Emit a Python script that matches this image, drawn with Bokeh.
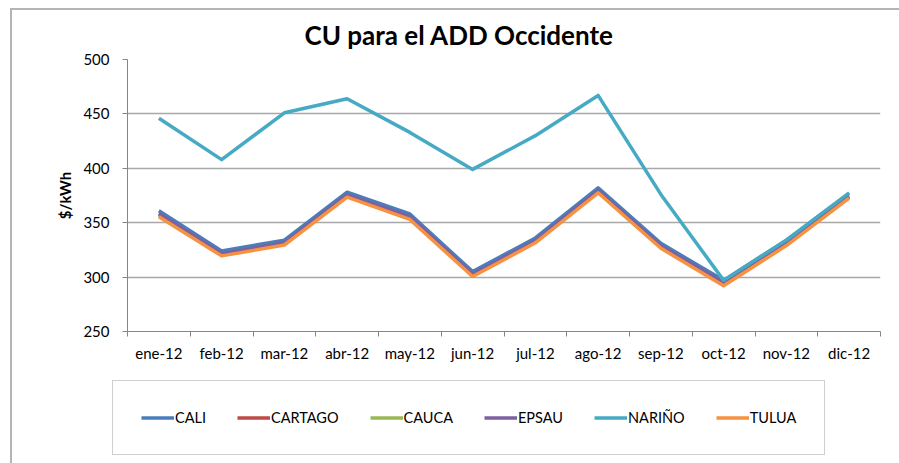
from bokeh.plotting import figure
from bokeh.models import FixedTicker, Range1d, Legend, LegendItem, Div
from bokeh.layouts import column
from bokeh.embed import file_html
from bokeh.resources import INLINE

months = ["ene-12", "feb-12", "mar-12", "abr-12", "may-12", "jun-12",
          "jul-12", "ago-12", "sep-12", "oct-12", "nov-12", "dic-12"]

CALI = [361, 324, 334, 378, 358, 305, 336, 382, 331, 297, 334, 377]
CARTAGO = [357.5, 320.5, 330.5, 374.5, 354.5, 301.5, 332.5, 378.5, 327.5, 293.5, 330.5, 373.5]
CAUCA = [357, 320.5, 330.5, 374.5, 354, 301.5, 332.5, 378.5, 327.5, 293, 330, 373.5]
EPSAU = [358.5, 321.5, 331.5, 375.5, 355.5, 302.5, 333.5, 379.5, 328.5, 294.5, 331.5, 374.5]
NARINO = [446, 408, 451, 464, 433, 399, 430, 467, 376, 297, 334, 377.5]
TULUA = [355.5, 319.5, 329.5, 373.5, 353, 300.5, 331.5, 377.5, 326.5, 292, 329, 372.5]

series_names = ["CALI", "CARTAGO", "CAUCA", "EPSAU", "NARIÑO", "TULUA"]
series_values = [CALI, CARTAGO, CAUCA, EPSAU, NARINO, TULUA]
colors = ["#4A7EBB", "#BE4B48", "#98B954", "#7D60A0", "#46AAC5", "#F69240"]

y_ticks = [250, 300, 350, 400, 450, 500]

FONT = "Lato"

p = figure(frame_width=753, frame_height=272,
           min_border_left=127, min_border_right=19,
           min_border_top=59, min_border_bottom=49,
           x_range=Range1d(0, len(months)), y_range=Range1d(250, 500),
           output_backend="svg", toolbar_location=None,
           background_fill_color="white", border_fill_color="white")
p.outline_line_color = None

xs = [i + 0.5 for i in range(len(months))]
for name, vals, col in zip(series_names, series_values, colors):
    p.line(xs, vals, line_color=col, line_width=3.5, line_join="round")

# title
p.title.text = "CU para el ADD Occidente"
p.title.align = "left"
p.title.offset = 177
p.title.standoff = 17
p.title.text_font = FONT
p.title.text_font_style = "bold"
p.title.text_font_size = "26px"
p.title.text_color = "black"

# x axis
p.xaxis.ticker = FixedTicker(ticks=xs, minor_ticks=list(range(len(months) + 1)))
p.xaxis.major_label_overrides = {x: m for x, m in zip(xs, months)}
p.xaxis.major_tick_out = 0
p.xaxis.major_tick_in = 0
p.xaxis.minor_tick_out = 5
p.xaxis.minor_tick_in = 0
p.xaxis.minor_tick_line_color = "#868686"
p.xaxis.axis_line_color = "#868686"
p.xaxis.major_label_standoff = 7
p.xaxis.major_label_text_font = FONT
p.xaxis.major_label_text_font_size = "15px"
p.xaxis.major_label_text_color = "black"
p.xgrid.grid_line_color = None

# y axis
p.yaxis.ticker = FixedTicker(ticks=y_ticks)
p.yaxis.minor_tick_line_color = None
p.yaxis.major_tick_out = 5
p.yaxis.major_tick_in = 0
p.yaxis.major_tick_line_color = "#868686"
p.yaxis.axis_line_color = "#868686"
p.yaxis.major_label_standoff = 13
p.yaxis.major_label_text_font = FONT
p.yaxis.major_label_text_font_size = "15px"
p.yaxis.major_label_text_color = "black"
p.yaxis.axis_label = "$/kWh"
p.yaxis.axis_label_text_font = FONT
p.yaxis.axis_label_text_font_style = "bold"
p.yaxis.axis_label_text_font_size = "15px"
p.yaxis.axis_label_text_color = "black"
p.yaxis.axis_label_standoff = 6
p.ygrid.grid_line_color = "#a8a8a8"
p.ygrid.grid_line_width = 1.3

# legend strip below the chart (series drawn outside its visible range,
# only their legend glyphs show)
q = figure(frame_width=899, frame_height=83, min_border=0,
           x_range=Range1d(0, 1), y_range=Range1d(0, 1),
           x_axis_type=None, y_axis_type=None,
           output_backend="svg", toolbar_location=None,
           background_fill_color="white", border_fill_color="white")
q.outline_line_color = None
q.grid.visible = False
items = []
for name, vals, col in zip(series_names, series_values, colors):
    r = q.line(xs, vals, line_color=col, line_width=3.5)
    items.append(LegendItem(label=name, renderers=[r]))
lg = Legend(items=items, orientation="horizontal", location=(112, 8))
lg.margin = 0
lg.glyph_width = 33
lg.glyph_height = 15
lg.label_height = 15
lg.label_standoff = 1
lg.spacing = 31
lg.padding = 28
lg.label_text_font = FONT
lg.label_text_font_size = "14.5px"
lg.label_text_color = "black"
lg.border_line_color = "#a0a0a0"
lg.border_line_width = 1.5
lg.background_fill_color = "white"
lg.background_fill_alpha = 1
q.add_layout(lg, "center")

frame_div = Div(text="", width=894, height=460,
                styles={"position": "absolute", "left": "5px", "top": "3px",
                        "border-top": "2px solid #b4b4b4",
                        "border-left": "2px solid #b4b4b4",
                        "pointer-events": "none"})

layout = column(p, q, frame_div, spacing=0)
open("out.html", "w").write(file_html(layout, INLINE))
